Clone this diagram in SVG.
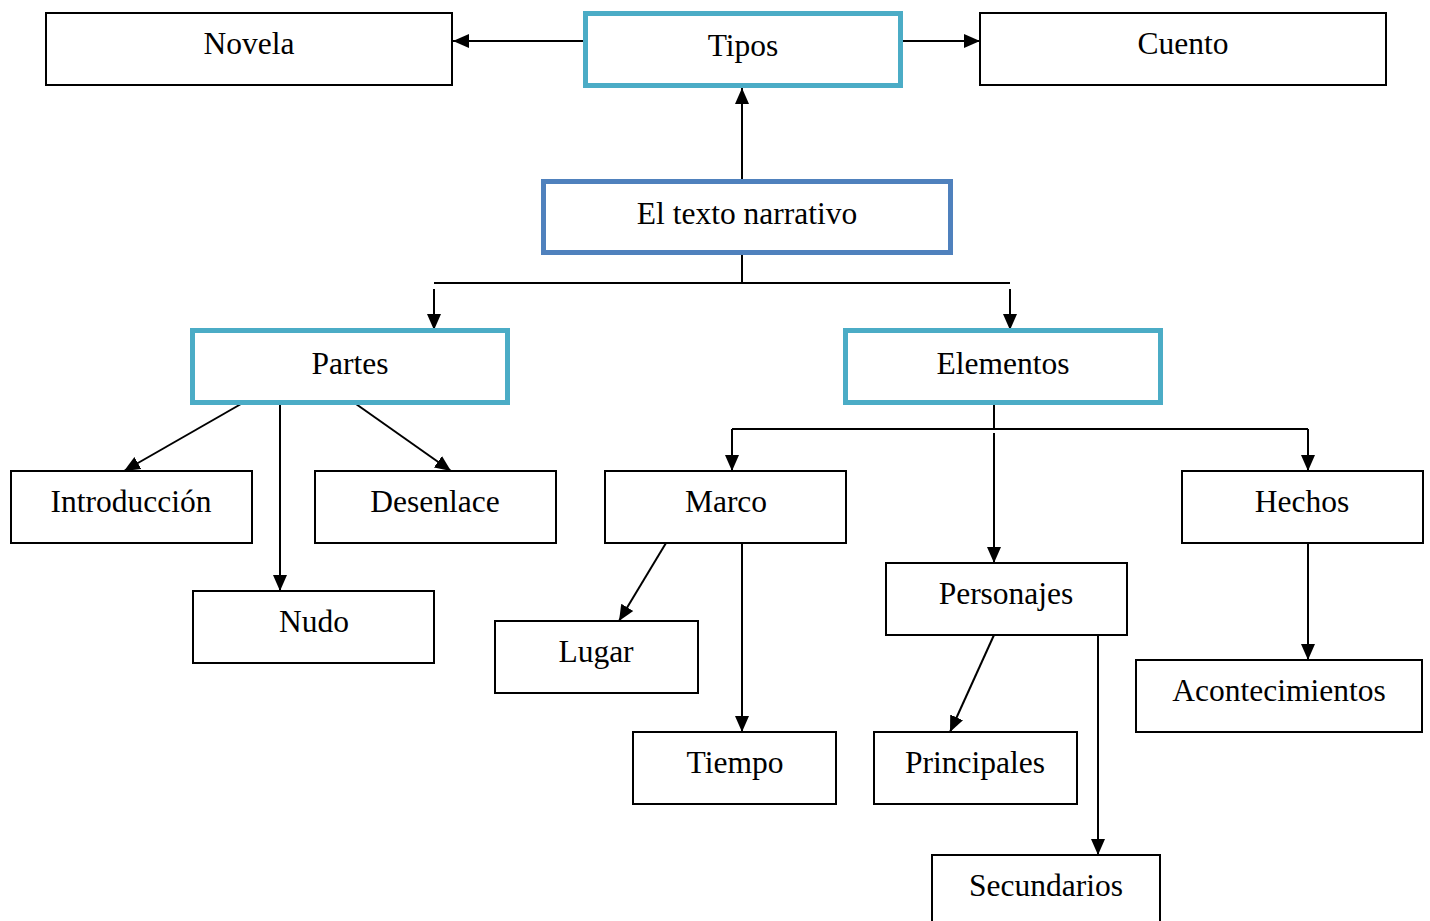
<svg xmlns="http://www.w3.org/2000/svg" width="1430" height="921" viewBox="0 0 1430 921">
<defs>
<marker id="ah" markerUnits="userSpaceOnUse" markerWidth="17" markerHeight="16" refX="16" refY="8" orient="auto">
<path d="M0,1 L16,8 L0,15 Z" fill="#000"/>
</marker>
<style>
.box{fill:#fff;stroke:#000;stroke-width:2}
.teal{fill:#fff;stroke:#4BACC6;stroke-width:5}
.blue{fill:#fff;stroke:#4F81BD;stroke-width:5}
.t{font-family:"Liberation Serif","Times New Roman",serif;font-size:31.5px;fill:#000;text-anchor:middle}
.c{fill:none;stroke:#000;stroke-width:2}
.a{fill:none;stroke:#000;stroke-width:2;marker-end:url(#ah)}
</style>
</defs>
<rect width="1430" height="921" fill="#fff"/>
<g id="connectors">
<line class="a" x1="585" y1="41" x2="453" y2="41"/>
<line class="a" x1="901" y1="41" x2="980" y2="41"/>
<line class="a" x1="742" y1="181" x2="742" y2="88"/>
<line class="c" x1="742" y1="255" x2="742" y2="283"/>
<line class="c" x1="434" y1="283" x2="1010" y2="283"/>
<line class="a" x1="434" y1="289" x2="434" y2="330"/>
<line class="a" x1="1010" y1="289" x2="1010" y2="330"/>
<line class="a" x1="241" y1="404" x2="124" y2="471"/>
<line class="a" x1="280" y1="404" x2="280" y2="591"/>
<line class="a" x1="356" y1="404" x2="451" y2="471"/>
<line class="c" x1="994" y1="405" x2="994" y2="429"/>
<polyline class="a" points="732,429 732,471"/>
<polyline class="a" points="1308,429 1308,471"/>
<line class="c" x1="732" y1="429" x2="1308" y2="429"/>
<line class="a" x1="994" y1="433" x2="994" y2="563"/>
<line class="a" x1="666" y1="543" x2="619" y2="621"/>
<line class="a" x1="742" y1="543" x2="742" y2="732"/>
<line class="a" x1="994" y1="635" x2="950" y2="732"/>
<line class="a" x1="1098" y1="635" x2="1098" y2="855"/>
<line class="a" x1="1308" y1="543" x2="1308" y2="660"/>
</g>
<g id="novela"><rect class="box" x="46" y="13" width="406" height="72"/><text class="t" x="249" y="54">Novela</text></g>
<g id="tipos"><rect class="teal" x="585.5" y="13.5" width="315" height="72"/><text class="t" x="743" y="56">Tipos</text></g>
<g id="cuento"><rect class="box" x="980" y="13" width="406" height="72"/><text class="t" x="1183" y="54">Cuento</text></g>
<g id="texto"><rect class="blue" x="543.5" y="181.5" width="407" height="71"/><text class="t" x="747" y="224">El texto narrativo</text></g>
<g id="partes"><rect class="teal" x="192.5" y="330.5" width="315" height="72"/><text class="t" x="350" y="374">Partes</text></g>
<g id="elementos"><rect class="teal" x="845.5" y="330.5" width="315" height="72"/><text class="t" x="1003" y="374">Elementos</text></g>
<g id="introduccion"><rect class="box" x="11" y="471" width="241" height="72"/><text class="t" x="131" y="512">Introducción</text></g>
<g id="desenlace"><rect class="box" x="315" y="471" width="241" height="72"/><text class="t" x="435" y="512">Desenlace</text></g>
<g id="nudo"><rect class="box" x="193" y="591" width="241" height="72"/><text class="t" x="314" y="632">Nudo</text></g>
<g id="marco"><rect class="box" x="605" y="471" width="241" height="72"/><text class="t" x="726" y="512">Marco</text></g>
<g id="hechos"><rect class="box" x="1182" y="471" width="241" height="72"/><text class="t" x="1302" y="512">Hechos</text></g>
<g id="personajes"><rect class="box" x="886" y="563" width="241" height="72"/><text class="t" x="1006" y="604">Personajes</text></g>
<g id="lugar"><rect class="box" x="495" y="621" width="203" height="72"/><text class="t" x="596" y="662">Lugar</text></g>
<g id="tiempo"><rect class="box" x="633" y="732" width="203" height="72"/><text class="t" x="735" y="773">Tiempo</text></g>
<g id="principales"><rect class="box" x="874" y="732" width="203" height="72"/><text class="t" x="975" y="773">Principales</text></g>
<g id="acontecimientos"><rect class="box" x="1136" y="660" width="286" height="72"/><text class="t" x="1279" y="701">Acontecimientos</text></g>
<g id="secundarios"><rect class="box" x="932" y="855" width="228" height="80"/><text class="t" x="1046" y="896">Secundarios</text></g>
</svg>
